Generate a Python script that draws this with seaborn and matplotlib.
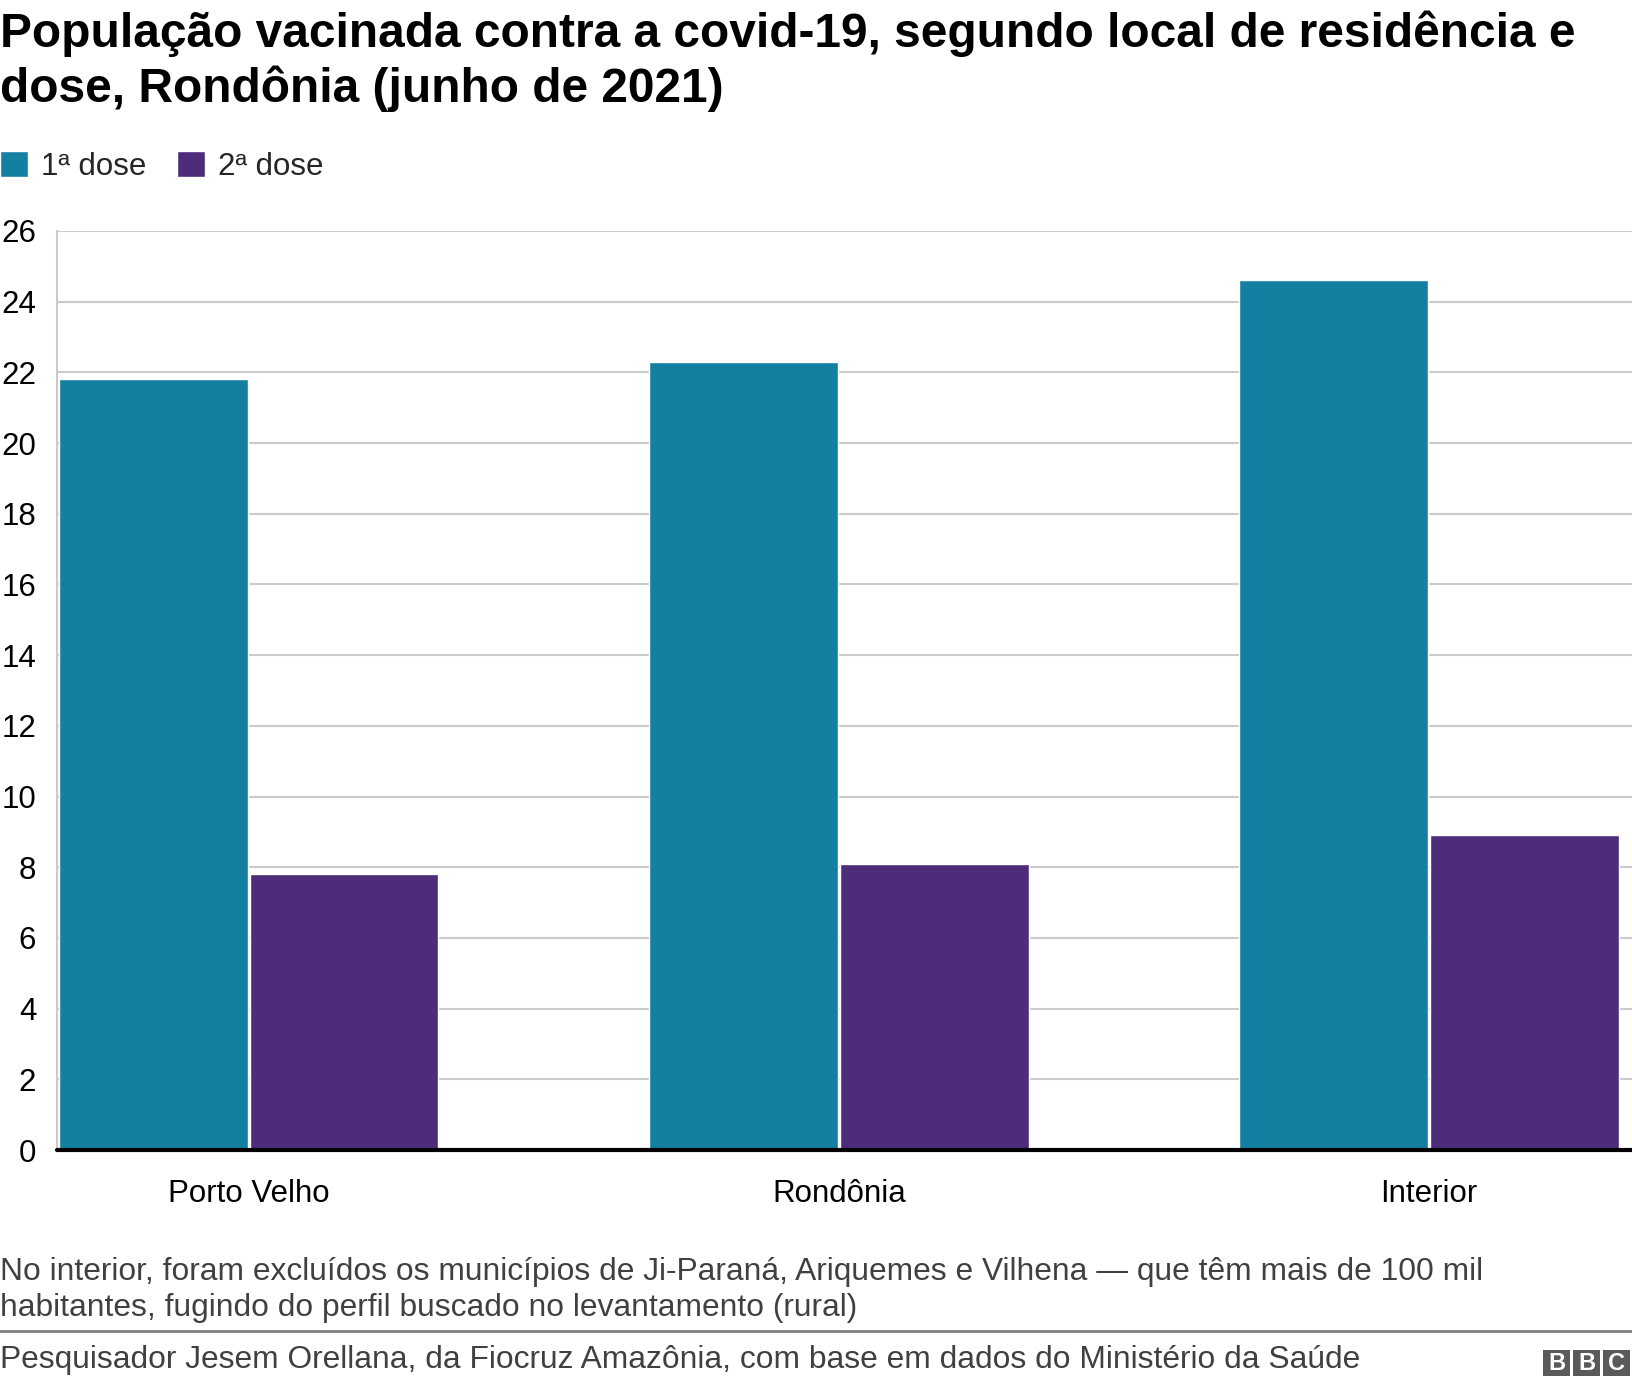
import pandas as pd
import numpy as np
import seaborn as sns
import matplotlib.pyplot as plt
from matplotlib.patches import Rectangle

# dados (% da população vacinada)
locais = ["Porto Velho", "Rondônia", "Interior"]
doses = ["1ª dose", "2ª dose"]
primeira_dose = [21.8, 22.3, 24.6]
segunda_dose = [7.8, 8.1, 8.9]
cores = ["#1380A1", "#4D2C7A"]
y_ticks = list(range(0, 27, 2))

df = pd.DataFrame({
    "local": locais * 2,
    "dose": [doses[0]] * 3 + [doses[1]] * 3,
    "valor": primeira_dose + segunda_dose,
})

sns.set_theme(style="white")
plt.rcParams["font.family"] = ["Liberation Sans", "DejaVu Sans"]

W, H = 1632, 1386
fig = plt.figure(figsize=(W / 100, H / 100), dpi=100)
ax = fig.add_axes([57 / W, 1 - 1150 / H, (W - 57) / W, (1150 - 231) / H])

sns.barplot(data=df, x="local", y="valor", hue="dose", palette=cores,
            width=0.646, gap=0.01, saturation=1, ax=ax)

ax.set_xlim(-0.325, 2.344)
ax.set_ylim(0, 26)
ax.set_yticks(y_ticks)
ax.set_xlabel("")
ax.set_ylabel("")
ax.yaxis.grid(True, color="#cbcbcb", lw=1.5)
ax.set_axisbelow(True)
for s in ["top", "right", "bottom"]:
    ax.spines[s].set_visible(False)
ax.spines["left"].set_color("#cbcbcb")
ax.spines["left"].set_linewidth(1.5)
ax.axhline(0, color="#000000", lw=3, clip_on=False, zorder=5)
ax.tick_params(axis="y", labelsize=22.5, pad=15, length=0, labelcolor="#000000")
ax.tick_params(axis="x", labelsize=22.5, pad=21, length=0, labelcolor="#000000")

# legenda
handles, labels = ax.get_legend_handles_labels()
ax.get_legend().remove()
fig.legend(handles, labels, loc="upper left", bbox_to_anchor=(0, 1 - 151 / H),
           ncol=2, frameon=False, fontsize=22.5, handlelength=0.88, handleheight=0.88,
           handletextpad=0.42, columnspacing=1.0, borderpad=0, borderaxespad=0)

# título
fig.text(0, 1 - 47 / H, "População vacinada contra a covid-19, segundo local de residência e",
         fontsize=34.5, fontweight="bold", color="#000000", va="baseline")
fig.text(0, 1 - 102 / H, "dose, Rondônia (junho de 2021)",
         fontsize=34.5, fontweight="bold", color="#000000", va="baseline")

# nota e fonte
fig.text(0, 1 - 1272 / H,
         "No interior, foram excluídos os municípios de Ji-Paraná, Ariquemes e Vilhena — que têm mais de 100 mil",
         fontsize=22.9, color="#404040", va="center")
fig.text(0, 1 - 1308 / H,
         "habitantes, fugindo do perfil buscado no levantamento (rural)",
         fontsize=22.9, color="#404040", va="center")
fig.add_artist(plt.Line2D([0, 1], [1 - 1330.5 / H] * 2, color="#7f7f7f", lw=2))
fig.text(0, 1 - 1360 / H,
         "Pesquisador Jesem Orellana, da Fiocruz Amazônia, com base em dados do Ministério da Saúde",
         fontsize=22.9, color="#404040", va="center")

# logo BBC
for i, letra in enumerate("BBC"):
    x0 = 1543 + i * 30
    fig.add_artist(Rectangle((x0 / W, 1 - 1376 / H), 27 / W, 26 / H,
                             transform=fig.transFigure, color="#5a5a5a", lw=0))
    fig.text((x0 + 13.5) / W, 1 - 1363 / H, letra, fontsize=17, fontweight="bold",
             color="white", ha="center", va="center")

fig.savefig("out.png", dpi=100)
